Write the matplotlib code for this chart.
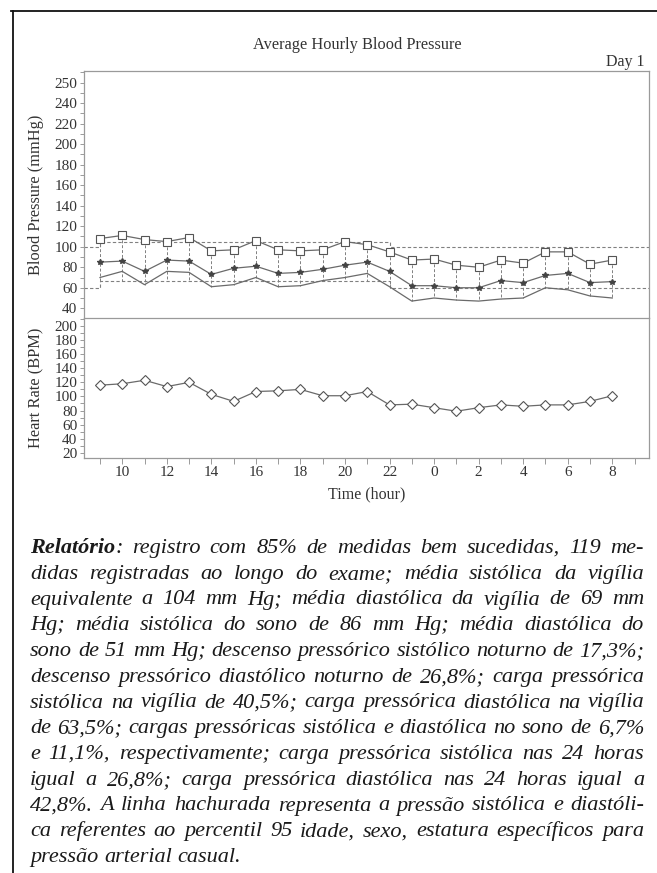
import matplotlib
matplotlib.use('Agg')
import matplotlib.pyplot as plt
from matplotlib.lines import Line2D
from matplotlib.transforms import IdentityTransform
from matplotlib.ticker import FixedLocator, MultipleLocator

# ---------------- data ----------------
hours = [9, 10, 11, 12, 13, 14, 15, 16, 17, 18, 19, 20, 21, 22, 23,
         0, 1, 2, 3, 4, 5, 6, 7, 8]
systolic = [108, 111, 107, 105, 109, 96, 97, 106, 97, 96, 97, 105, 102, 95, 87,
            88, 82, 80, 87, 84, 95, 95, 83, 87]
mean_bp = [85, 86, 76, 87, 86, 73, 79, 81, 74, 75, 78, 82, 85, 76, 62,
           62, 60, 60, 67, 65, 72, 74, 65, 66]
diastolic = [70, 76, 63, 76, 75, 61, 63, 70, 61, 62, 67, 70, 74, 61, 47,
             50, 48, 47, 49, 50, 60, 58, 52, 50]
heart_rate = [116, 118, 123, 114, 120, 103, 93, 107, 108, 110, 101, 101, 107, 88, 89,
              84, 79, 84, 88, 86, 88, 88, 93, 101]

# reference (95th percentile) limits: day 9h-22h, night otherwise
day_start, day_end = 9, 22
sys_ref_day, sys_ref_night = 105, 100
dia_ref_day, dia_ref_night = 67, 60

bp_ticks = [40, 60, 80, 100, 120, 140, 160, 180, 200, 220, 240, 260]
bp_tick_labels = ['40', '60', '80', '100', '120', '140', '160', '180', '200', '220', '240', '250']
hr_ticks = [20, 40, 60, 80, 100, 120, 140, 160, 180, 200]
x_label_hours = [10, 12, 14, 16, 18, 20, 22, 24, 26, 28, 30, 32]

title = 'Average Hourly Blood Pressure'
day_label = 'Day 1'

paragraph = [
    [[('Relatório', 'bold'), (':', 'normal')], 'registro com 85% de medidas bem sucedidas, 119 me-'],
    'didas registradas ao longo do exame; média sistólica da vigília',
    'equivalente a 104 mm Hg; média diastólica da vigília de 69 mm',
    'Hg; média sistólica do sono de 86 mm Hg; média diastólica do',
    'sono de 51 mm Hg; descenso pressórico sistólico noturno de 17,3%;',
    'descenso pressórico diastólico noturno de 26,8%; carga pressórica',
    'sistólica na vigília de 40,5%; carga pressórica diastólica na vigília',
    'de 63,5%; cargas pressóricas sistólica e diastólica no sono de 6,7%',
    'e 11,1%, respectivamente; carga pressórica sistólica nas 24 horas',
    'igual a 26,8%; carga pressórica diastólica nas 24 horas igual a',
    '42,8%. A linha hachurada representa a pressão sistólica e diastóli-',
    'ca referentes ao percentil 95 idade, sexo, estatura específicos para',
    'pressão arterial casual.',
]

# ---------------- figure ----------------
W, H = 657, 873
plt.rcParams['font.family'] = ['Liberation Serif', 'DejaVu Serif']
fig = plt.figure(figsize=(W / 100, H / 100), dpi=100)

L, R = 84.4, 649.0
T1, B1, B2 = 70.7, 318.0, 457.7
ax1 = fig.add_axes([L / W, 1 - B1 / H, (R - L) / W, (B1 - T1) / H])
ax2 = fig.add_axes([L / W, 1 - B2 / H, (R - L) / W, (B2 - B1) / H], sharex=ax1)

t = [h if h >= day_start else h + 24 for h in hours]
xlim = (8.3, 33.65)

line_c = '#6a6a6a'
spine_c = '#9a9a9a'
dash_c = '#808080'
txt_c = '#333333'

# reference limits (step lines)
ref_x = [xlim[0], day_start, day_end, xlim[1]]
ax1.plot(ref_x, [sys_ref_night, sys_ref_day, sys_ref_night, sys_ref_night],
         drawstyle='steps-post', color=dash_c, lw=0.8, ls=(0, (3, 2)))
ax1.plot(ref_x, [dia_ref_night, dia_ref_day, dia_ref_night, dia_ref_night],
         drawstyle='steps-post', color=dash_c, lw=0.8, ls=(0, (3, 2)))

# vertical drop lines
for xi, s, d in zip(t, systolic, diastolic):
    lo_ref = dia_ref_day if day_start <= xi < day_end else dia_ref_night
    ax1.plot([xi, xi], [s, min(d, lo_ref)], color=dash_c, lw=0.7, ls=(0, (3, 2)))

ax1.plot(t, diastolic, color=line_c, lw=0.9)
ax1.plot(t, mean_bp, color=line_c, lw=0.9, marker='*', ms=4.2,
         mfc='#444444', mec='#444444')
ax1.plot(t, systolic, color=line_c, lw=0.9, marker='s', ms=5.2,
         mfc='white', mec='#555555', mew=0.8)

ax2.plot(t, heart_rate, color=line_c, lw=0.9, marker='D', ms=5.2,
         mfc='white', mec='#555555', mew=0.8)

ax1.set_xlim(*xlim)
ax1.set_ylim(30.5, 271.7)
ax2.set_ylim(13, 211.4)

for ax in (ax1, ax2):
    for s in ax.spines.values():
        s.set_color(spine_c)
        s.set_linewidth(0.9)
    ax.tick_params(which='both', direction='out', color=spine_c, length=3,
                   width=0.7, labelsize=11, labelcolor=txt_c, pad=2)

ax1.yaxis.set_major_locator(FixedLocator(bp_ticks))
ax1.set_yticklabels(bp_tick_labels)
ax1.yaxis.set_minor_locator(MultipleLocator(10))
ax1.tick_params(axis='x', which='both', bottom=False, labelbottom=False)
ax1.spines['bottom'].set_visible(False)

ax2.yaxis.set_major_locator(FixedLocator(hr_ticks))
ax2.yaxis.set_minor_locator(MultipleLocator(10))
ax2.xaxis.set_major_locator(FixedLocator(x_label_hours))
ax2.set_xticklabels([str(h % 24) for h in x_label_hours])
ax2.xaxis.set_minor_locator(MultipleLocator(1))
ax2.tick_params(axis='x', which='both', length=4, pad=2)

ax1.set_ylabel('Blood Pressure (mmHg)', fontsize=11.8, color=txt_c)
ax2.set_ylabel('Heart Rate (BPM)', fontsize=11.8, color=txt_c)
ax2.set_xlabel('Time (hour)', fontsize=11.5, color=txt_c, labelpad=5)
ax1.yaxis.set_label_coords(-0.071, 0.5)
ax2.yaxis.set_label_coords(-0.071, 0.5)

fig.text(357 / W, 1 - 45 / H, title, ha='center', va='center', fontsize=11.8, color=txt_c)
fig.text(645 / W, 1 - 62 / H, day_label, ha='right', va='center', fontsize=11.5, color=txt_c)

# outer frame lines
fig.add_artist(Line2D([11 / W, 1.0], [1 - 11 / H, 1 - 11 / H], transform=fig.transFigure,
                      color='#111111', lw=1.3))
fig.add_artist(Line2D([13 / W, 13 / W], [1 - 11 / H, 0], transform=fig.transFigure,
                      color='#111111', lw=1.3))

# ---------------- justified paragraph ----------------
renderer = fig.canvas.get_renderer()
x0, x1 = 30.0, 644.0
base0, dy = 553.0, 25.75


def split_words(line):
    if isinstance(line, list):
        return [line[0]] + line[1].split()
    return line.split()


def make_word(word, y, fs):
    runs = word if isinstance(word, list) else [(word, 'normal')]
    return [fig.text(0, y, txt, transform=IdentityTransform(), fontsize=fs, style='italic',
                     weight=wt, color='#1a1a1a', va='baseline', ha='left')
            for txt, wt in runs]


def width_of(objs):
    return sum(o.get_window_extent(renderer).width for o in objs)


def space_width(fs):
    a = fig.text(0, 0, 'a a', transform=IdentityTransform(), fontsize=fs, style='italic')
    b = fig.text(0, 0, 'aa', transform=IdentityTransform(), fontsize=fs, style='italic')
    w = a.get_window_extent(renderer).width - b.get_window_extent(renderer).width
    a.remove(); b.remove()
    return w


# choose font size so the widest line fits with normal spacing
fs0 = 13.0
sw0 = space_width(fs0)
maxw = 0
for line in paragraph[:-1]:
    g = [make_word(w, 0, fs0) for w in split_words(line)]
    nat = sum(width_of(x) for x in g) + sw0 * (len(g) - 1)
    maxw = max(maxw, nat)
    for x in g:
        for o in x:
            o.remove()
fs = fs0 * (x1 - x0 - 4) / maxw
sw = space_width(fs)

for i, line in enumerate(paragraph):
    words = split_words(line)
    y = H - (base0 + i * dy)
    groups = [make_word(w, y, fs) for w in words]
    widths = [width_of(g) for g in groups]
    if i == len(paragraph) - 1:
        gap = sw
    else:
        gap = (x1 - x0 - sum(widths)) / (len(words) - 1)
    x = x0
    for g, w in zip(groups, widths):
        xx = x
        for o in g:
            o.set_position((xx, y))
            xx += o.get_window_extent(renderer).width
        x += w + gap

fig.savefig('out.png', dpi=100)
